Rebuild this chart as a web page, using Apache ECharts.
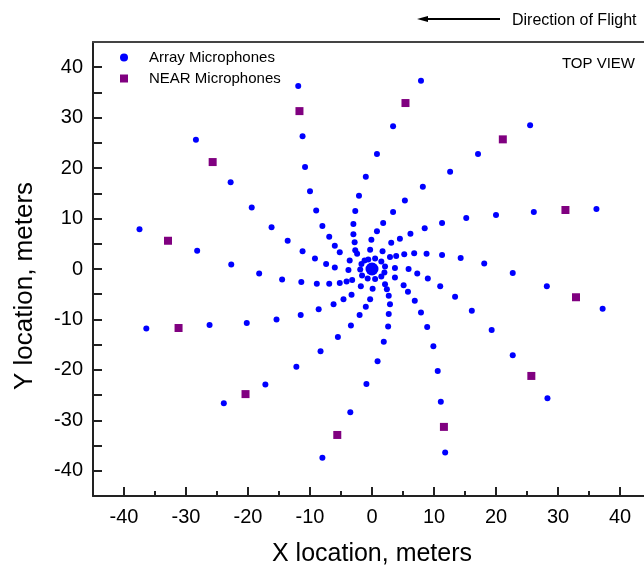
<!DOCTYPE html>
<html>
<head>
<meta charset="utf-8">
<title>Microphone array - top view</title>
<script src="https://cdn.jsdelivr.net/npm/echarts@6/dist/echarts.min.js"></script>
<style>
  html, body { margin: 0; padding: 0; background: #fff; }
  #main { width: 644px; height: 566px; }
</style>
</head>
<body>
<div id="main"></div>
<script>
// tick values
var xMajorTicks = [-40, -30, -20, -10, 0, 10, 20, 30, 40];
var xMinorTicks = [-35, -25, -15, -5, 5, 15, 25, 35];
var yTicks = [-40, -35, -30, -25, -20, -15, -10, -5, 0, 5, 10, 15, 20, 25, 30, 35, 40];
var yLabels = [-40, -30, -20, -10, 0, 10, 20, 30, 40];

// array microphones, one list per spiral arm (x, y in meters)
var arm1 = [[-11.9,36.3],[-11.2,26.3],[-10.8,20.2],[-10.0,15.4],[-9.0,11.6],[-8.0,8.5],[-6.9,6.4],[-6.0,4.6],[-5.2,3.3],[-3.6,1.7]];
var arm2 = [[-28.4,25.6],[-22.8,17.2],[-19.4,12.2],[-16.2,8.3],[-13.6,5.6],[-11.2,3.5],[-9.2,2.1],[-7.4,1.0],[-6.0,0.3],[-3.8,-0.2]];
var arm3 = [[-37.5,7.9],[-28.2,3.6],[-22.7,0.9],[-18.2,-0.9],[-14.5,-2.1],[-11.4,-2.6],[-8.9,-2.9],[-6.9,-2.9],[-5.2,-2.8],[-4.1,-2.5],[-3.2,-2.2]];
var arm4 = [[-36.4,-11.8],[-26.2,-11.1],[-20.2,-10.7],[-15.4,-10.0],[-11.5,-9.1],[-8.6,-8.0],[-6.2,-7.0],[-4.6,-6.0],[-3.3,-5.1],[-1.8,-3.4]];
var arm5 = [[-23.9,-26.6],[-17.2,-22.9],[-12.2,-19.4],[-8.3,-16.3],[-5.5,-13.5],[-3.4,-11.2],[-2.0,-9.1],[-1.0,-7.5],[-0.3,-6.0],[0.1,-3.9]];
var arm6 = [[-8.0,-37.4],[-3.5,-28.4],[-0.9,-22.8],[0.9,-18.3],[1.9,-14.4],[2.6,-11.4],[2.7,-8.9],[2.9,-7.0],[2.7,-5.3],[2.4,-4.0],[2.1,-3.0]];
var arm7 = [[11.8,-36.4],[11.1,-26.3],[10.6,-20.2],[9.9,-15.3],[8.9,-11.5],[7.9,-8.6],[6.9,-6.3],[5.8,-4.5],[5.1,-3.2],[3.7,-1.7]];
var arm8 = [[28.3,-25.6],[22.7,-17.1],[19.3,-12.1],[16.1,-8.3],[13.4,-5.5],[11.0,-3.4],[9.0,-1.9],[7.3,-0.9],[5.9,0.0],[3.7,0.2]];
var arm9 = [[37.2,-7.9],[28.2,-3.4],[22.7,-0.8],[18.1,1.1],[14.3,2.2],[11.3,2.8],[8.8,3.0],[6.8,3.1],[5.2,2.9],[3.9,2.6],[2.9,2.4]];
var arm10 = [[36.2,11.9],[26.1,11.3],[20.0,10.7],[15.2,10.1],[11.3,9.1],[8.5,8.1],[6.2,7.0],[4.5,6.0],[3.1,5.2],[1.7,3.5]];
var arm11 = [[25.5,28.5],[17.1,22.8],[12.6,19.3],[8.2,16.3],[5.3,13.6],[3.4,11.3],[1.8,9.1],[0.8,7.5],[-0.1,5.8],[-0.3,3.8]];
var arm12 = [[7.9,37.3],[3.4,28.3],[0.8,22.8],[-1.0,18.3],[-2.1,14.5],[-2.7,11.5],[-3.0,8.9],[-3.0,6.9],[-2.8,5.3],[-2.7,3.7],[-2.4,3.0]];
var innerRing = [[-0.6,1.9],[0.5,2.1],[1.5,1.5],[2.1,0.5],[2.0,-0.7],[1.5,-1.5],[0.5,-2.0],[-0.7,-1.9],[-1.6,-1.3],[-1.9,-0.1],[-1.7,1.0],[-1.2,1.7]];
var centerMic = [[0, 0]];

// NEAR microphones
var nearMics = [[-11.7,31.3],[-25.7,21.2],[-32.9,5.6],[-31.2,-11.7],[-20.4,-24.8],[-5.6,-32.9],[11.6,-31.3],[25.7,-21.2],[32.9,-5.6],[31.2,11.7],[21.1,25.7],[5.4,32.9]];

var arrayMics = [].concat(arm1, arm2, arm3, arm4, arm5, arm6, arm7, arm8, arm9, arm10, arm11, arm12, innerRing);

var font = "'Liberation Sans', Arial, sans-serif";
var myChart = echarts.init(document.getElementById('main'));

var option = {
  animation: false,
  textStyle: { fontFamily: font },
  grid: { left: 93, top: 42, width: 558, height: 454, outerBoundsMode: 'none', containLabel: false },
  legend: {
    orient: 'vertical',
    left: 115,
    top: 45,
    itemWidth: 8,
    itemHeight: 8,
    itemGap: 6,
    textStyle: { fontSize: 15, color: '#000', fontFamily: font, padding: [0, 0, 0, 16] },
    data: [
      { name: 'Array Microphones', icon: 'circle' },
      { name: 'NEAR Microphones', icon: 'rect' }
    ]
  },
  xAxis: [
    {
      type: 'value', min: -45, max: 45, position: 'bottom',
      splitLine: { show: false },
      axisLine: { onZero: false, lineStyle: { color: '#222', width: 2 } },
      axisTick: { inside: true, length: 9, customValues: xMajorTicks, lineStyle: { color: '#222', width: 2 } },
      axisLabel: { customValues: xMajorTicks, fontSize: 20, color: '#000', margin: 11, fontFamily: font },
      name: 'X location, meters', nameLocation: 'middle', nameGap: 46,
      nameTextStyle: { fontSize: 25, color: '#000', fontFamily: font }
    },
    {
      type: 'value', min: -45, max: 45, position: 'bottom',
      splitLine: { show: false },
      axisLine: { show: false, onZero: false },
      axisTick: { inside: true, length: 5, customValues: xMinorTicks, lineStyle: { color: '#222', width: 2 } },
      axisLabel: { show: false }
    },
    {
      type: 'value', min: -45, max: 45, position: 'top',
      splitLine: { show: false },
      axisLine: { onZero: false, lineStyle: { color: '#444', width: 2 } },
      axisTick: { show: false },
      axisLabel: { show: false }
    }
  ],
  yAxis: {
    type: 'value', min: -45, max: 45,
    splitLine: { show: false },
    axisLine: { onZero: false, lineStyle: { color: '#222', width: 2 } },
    axisTick: { inside: true, length: 9, customValues: yTicks, lineStyle: { color: '#222', width: 2 } },
    axisLabel: { customValues: yLabels, fontSize: 20, color: '#000', margin: 10, fontFamily: font },
    name: 'Y location, meters', nameLocation: 'middle', nameGap: 55, nameRotate: 90,
    nameTextStyle: { fontSize: 26, color: '#000', fontFamily: font, padding: [0, 34, 0, 0] }
  },
  series: [
    {
      name: 'Array Microphones', type: 'scatter', symbol: 'circle', symbolSize: 6,
      itemStyle: { color: '#0000ff', opacity: 1 },
      data: arrayMics, z: 3
    },
    {
      name: 'Array Microphones', type: 'scatter', symbol: 'circle', symbolSize: 13,
      itemStyle: { color: '#0000ff', opacity: 1 },
      data: centerMic, z: 3
    },
    {
      name: 'NEAR Microphones', type: 'scatter', symbol: 'rect', symbolSize: 8,
      itemStyle: { color: '#800080', opacity: 1 },
      data: nearMics, z: 3
    }
  ],
  graphic: [
    { type: 'line', shape: { x1: 424, y1: 19, x2: 500, y2: 19 }, style: { stroke: '#000', lineWidth: 2 } },
    { type: 'polygon', shape: { points: [[417, 19], [428, 16], [428, 22]] }, style: { fill: '#000' } },
    { type: 'text', left: 512, top: 13, style: { text: 'Direction of Flight', fontSize: 16, fontFamily: font, fill: '#000' } },
    { type: 'text', right: 9, top: 56, style: { text: 'TOP VIEW', fontSize: 15, fontFamily: font, fill: '#000' } }
  ]
};

myChart.setOption(option);
</script>
</body>
</html>
